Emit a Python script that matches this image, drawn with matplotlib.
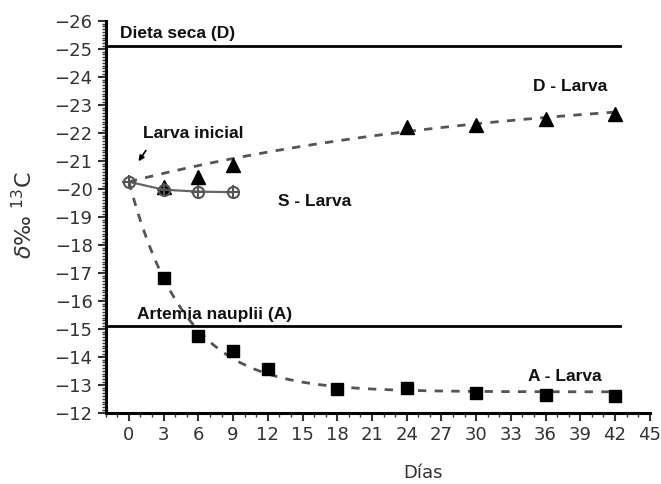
import numpy as np
import matplotlib
matplotlib.use("Agg")
import matplotlib.pyplot as plt
from matplotlib.ticker import MultipleLocator

# Sampling days and isotope values (delta 13C, per mil)
days_s = [0, 3, 6, 9]
s_larva = [-20.25, -19.97, -19.9, -19.88]

days_d = [3, 6, 9, 24, 30, 36, 42]
d_larva = [-20.05, -20.44, -20.86, -22.22, -22.28, -22.5, -22.67]
d_err = [0.15, 0.2, 0.2, 0.15, 0.15, 0.15, 0.15]

days_a = [3, 6, 9, 12, 18, 24, 30, 36, 42]
a_larva = [-16.8, -14.74, -14.21, -13.57, -12.85, -12.9, -12.7, -12.65, -12.6]

diet_dry = -25.1      # Dieta seca (D)
diet_artemia = -15.1  # Artemia nauplii (A)

# Exponential fit parameters for the trend curves: y = y0 + (yinf - y0) * (1 - exp(-k t))
fit_y0 = -20.25
fit_a_inf, fit_a_k = -12.75, 0.205
fit_d_inf, fit_d_k = -23.67, 0.031

xticks = list(range(0, 46, 3))
yticks = list(range(-26, -11))

fig = plt.figure(figsize=(6.61, 4.84), dpi=100)
ax = fig.add_axes([0.160, 0.147, 0.823, 0.810])

dark = "#333333"
curve_c = "#555555"

t = np.linspace(0, 42, 300)
ax.plot(t, fit_y0 + (fit_a_inf - fit_y0) * (1 - np.exp(-fit_a_k * t)),
        ls=(0, (3, 3)), color=curve_c, lw=2, zorder=2)
ax.plot(t, fit_y0 + (fit_d_inf - fit_y0) * (1 - np.exp(-fit_d_k * t)),
        ls=(0, (3, 3)), color=curve_c, lw=2, zorder=2)

# Diet reference levels
ax.plot([-2, 42.4], [diet_dry, diet_dry], color="black", lw=2, zorder=3)
ax.plot([-2, 42.4], [diet_artemia, diet_artemia], color="black", lw=2, zorder=3)

# Larval series
ax.errorbar(days_d, d_larva, yerr=d_err, fmt="^", color="black", ms=10,
            elinewidth=1.5, capsize=0, zorder=4)
ax.plot(days_a, a_larva, "s", color="black", ms=9, zorder=4)
ax.plot(days_s, s_larva, "-", color="#666666", lw=1.6, zorder=5)
ax.plot(days_s, s_larva, "o", mfc="none", mec="#555555", mew=1.5, ms=8, zorder=6)
ax.plot(days_s, s_larva, "+", color="#555555", mew=1.5, ms=10, zorder=6)

ax.set_xlim(-2, 45)
ax.set_ylim(-12, -26)

ax.set_xticks(xticks)
ax.set_yticks(yticks)
ax.xaxis.set_minor_locator(MultipleLocator(1))
ax.yaxis.set_minor_locator(MultipleLocator(0.1))
ax.tick_params(axis="both", which="major", direction="out", length=6, width=1.5,
               colors=dark, labelsize=13, labelcolor="#333333")
ax.tick_params(axis="both", which="minor", direction="out", length=3, width=1,
               colors=dark)

for side in ("top", "right"):
    ax.spines[side].set_visible(False)
for side in ("left", "bottom"):
    ax.spines[side].set_linewidth(2.2)
    ax.spines[side].set_color("black")

lab_font = dict(family=["Liberation Sans", "DejaVu Sans"], weight="bold",
                fontsize=12.5, color="#111111")
ax.text(-0.8, -25.55, "Dieta seca (D)", va="center", ha="left", **lab_font)
ax.text(34.9, -23.67, "D - Larva", va="center", ha="left", **lab_font)
ax.text(1.2, -21.96, "Larva inicial", va="center", ha="left", **lab_font)
ax.text(12.9, -19.55, "S - Larva", va="center", ha="left", **lab_font)
ax.text(0.7, -15.52, "Artemia nauplii (A)", va="center", ha="left", **lab_font)
ax.text(34.5, -13.29, "A - Larva", va="center", ha="left", **lab_font)

ax.annotate("", xy=(0.7, -20.9), xytext=(1.6, -21.45),
            arrowprops=dict(arrowstyle="-|>", color="black", lw=1.2,
                            mutation_scale=8))

fig.text(0.64, 0.023, "Días", ha="center", va="center", fontsize=13,
         color="#333333")
fig.text(0.035, 0.556, r"$\delta$‰ $^{13}$C", rotation=90, ha="center",
         va="center", fontsize=16, color="#333333")

fig.savefig("out.png", dpi=100)
